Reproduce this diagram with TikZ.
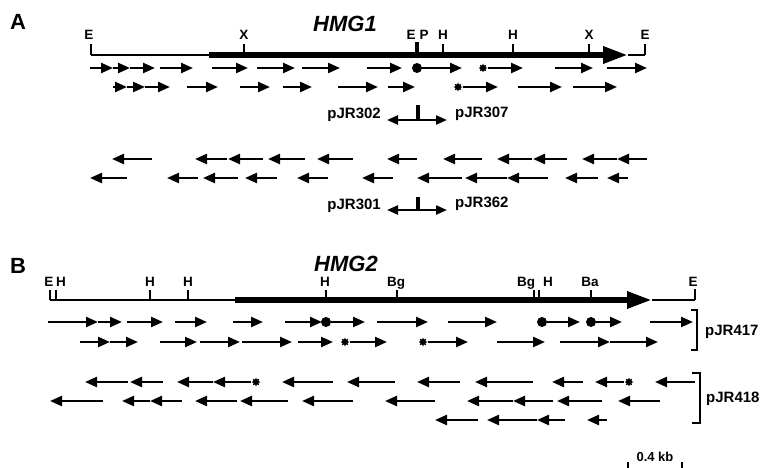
\documentclass[tikz,border=0pt]{standalone}
\usepackage{fontspec}
\setmainfont{Liberation Sans}
\usetikzlibrary{arrows.meta,shapes.geometric}

\tikzset{
 rd/.style={line width=2.3pt,-{Triangle[length=12pt,width=10pt]}},
 ld/.style={line width=2.3pt,{Triangle[length=12pt,width=10pt]}-},
 dotn/.style={circle,fill,inner sep=0pt,minimum size=10pt},
 starn/.style={star,star points=8,star point ratio=1.7,fill,inner sep=0pt,minimum size=9pt},
 site/.style={anchor=base,inner sep=0pt,font=\fontsize{13.5}{13.5}\selectfont\bfseries},
 plab/.style={anchor=base,inner sep=0pt,font=\fontsize{15}{15}\selectfont\bfseries},
 gene/.style={anchor=base,inner sep=0pt,font=\fontsize{22}{22}\selectfont\bfseries\itshape},
 panel/.style={anchor=base,inner sep=0pt,font=\fontsize{22}{22}\selectfont\bfseries},
 thinline/.style={line width=2.2pt},
 thickline/.style={line width=6pt,-{Triangle[length=25pt,width=16pt]}},
 tickline/.style={line width=2.2pt},
 pjr/.style={line width=2.3pt,{Triangle[length=11pt,width=9pt]}-{Triangle[length=11pt,width=9pt]}},
}

\newcommand\fwdrow[3]{\foreach \a/\b [count=\i] in {#3}{\coordinate (#1s\i) at (\a,#2); \coordinate (#1e\i) at (\b,#2); \draw[rd] (#1s\i) -- (#1e\i);}}
\newcommand\revrow[3]{\foreach \a/\b [count=\i] in {#3}{\coordinate (#1s\i) at (\a,#2); \coordinate (#1e\i) at (\b,#2); \draw[ld] (#1s\i) -- (#1e\i);}}

\begin{document}
\begin{tikzpicture}[x=1pt,y=-1pt]
\useasboundingbox (0,0) rectangle (764,468);

% ---------------- Panel A ----------------
\node[panel] (pA) at (18,30) {A};
\node[gene] (g1) at (345,32) {HMG1};

\coordinate (A0) at (91,55); \coordinate (A1) at (209,55);
\coordinate (A2) at (628,55); \coordinate (A3) at (645,55);
\draw[thinline] (A0) -- (A1);
\draw[thickline] (A1) -- (A2);
\draw[thinline] (A2) -- (A3);
\draw[tickline] (A0) -- ++(0,-11);
\draw[tickline] (A3) -- ++(0,-11);
\draw[tickline] (244,55) -- ++(0,-11);
\draw[line width=3.2pt] (417,55) -- ++(0,-13);
\draw[tickline] (443,55) -- ++(0,-11);
\draw[tickline] (513,55) -- ++(0,-11);
\draw[tickline] (589,55) -- ++(0,-11);

\node[site] (sa1) at (89,40) {E};
\node[site] (sa2) at (244,40) {X};
\node[site] (sa3) at (411,40) {E};
\node[site] (sa4) at (424,40) {P};
\node[site] (sa5) at (443,40) {H};
\node[site] (sa6) at (513,40) {H};
\node[site] (sa7) at (589,40) {X};
\node[site] (sa8) at (645,40) {E};

\fwdrow{ra}{68}{90/113,113/130,130/155,160/193,212/248,257/295,302/340,367/402,555/593,607/647}
\node[dotn] (da1) at (417,68) {}; \coordinate (da1e) at (462,68); \draw[rd] (da1) -- (da1e);
\node[starn] (sta1) at (483,68) {}; \coordinate (sta1e) at (523,68); \draw[rd] (sta1) -- (sta1e);

\fwdrow{rb}{87}{113/127,127/145,145/170,187/218,240/270,283/312,338/378,388/415,518/562,573/617}
\node[starn] (stb1) at (458,87) {}; \coordinate (stb1e) at (498,87); \draw[rd] (stb1) -- (stb1e);

% pJR302 / pJR307
\coordinate (p1l) at (387,120); \coordinate (p1r) at (447,120);
\coordinate (p1b) at (418,120); \coordinate (p1t) at (418,105);
\draw[pjr] (p1l) -- (p1r);
\draw[line width=3.2pt] (p1b) -- (p1t);
\node[plab,anchor=base east] (l302) at (381,119) {pJR302};
\node[plab,anchor=base west] (l307) at (455,118) {pJR307};

\revrow{rc}{159}{112/152,195/227,228/263,268/305,317/353,387/417,443/482,497/532,533/567,582/617,617/647}
\revrow{rd}{178}{90/127,167/198,203/238,245/277,297/328,362/393,417/462,465/507,507/548,565/598,607/628}

% pJR301 / pJR362
\coordinate (p2l) at (387,210); \coordinate (p2r) at (447,210);
\coordinate (p2b) at (418,210); \coordinate (p2t) at (418,197);
\draw[pjr] (p2l) -- (p2r);
\draw[line width=3.2pt] (p2b) -- (p2t);
\node[plab,anchor=base east] (l301) at (381,210) {pJR301};
\node[plab,anchor=base west] (l362) at (455,208) {pJR362};

% ---------------- Panel B ----------------
\node[panel] (pB) at (18,273) {B};
\node[gene] (g2) at (346,272) {HMG2};

\coordinate (B0) at (50,300); \coordinate (B1) at (235,300);
\coordinate (B2) at (652,300); \coordinate (B3) at (695,300);
\draw[thinline] (B0) -- (B1);
\draw[thickline] (B1) -- (B2);
\draw[thinline] (B2) -- (B3);
\draw[tickline] (B0) -- ++(0,-10);
\draw[tickline] (B3) -- ++(0,-11);
\draw[tickline] (56,300) -- ++(0,-10);
\draw[tickline] (150,300) -- ++(0,-10);
\draw[tickline] (188,300) -- ++(0,-10);
\draw[tickline] (326,300) -- ++(0,-10);
\draw[tickline] (397,300) -- ++(0,-10);
\draw[tickline] (534,300) -- ++(0,-10);
\draw[tickline] (539,300) -- ++(0,-10);
\draw[tickline] (591,300) -- ++(0,-10);

\node[site] (sb1) at (49,287) {E};
\node[site] (sb2) at (61,287) {H};
\node[site] (sb3) at (150,287) {H};
\node[site] (sb4) at (188,287) {H};
\node[site] (sb5) at (325,287) {H};
\node[site] (sb6) at (396,287) {Bg};
\node[site] (sb7) at (526,287) {Bg};
\node[site] (sb8) at (548,287) {H};
\node[site] (sb9) at (590,287) {Ba};
\node[site] (sb10) at (693,287) {E};

\fwdrow{re}{322}{48/98,98/122,127/163,175/207,233/263,285/322,377/428,448/497,650/693}
\node[dotn] (de1) at (326,322) {}; \coordinate (de1e) at (365,322); \draw[rd] (de1) -- (de1e);
\node[dotn] (de2) at (542,322) {}; \coordinate (de2e) at (580,322); \draw[rd] (de2) -- (de2e);
\node[dotn] (de3) at (591,322) {}; \coordinate (de3e) at (622,322); \draw[rd] (de3) -- (de3e);

\fwdrow{rf}{342}{80/110,110/138,160/197,200/240,242/292,298/333,497/545,560/610,610/658}
\node[starn] (stf1) at (345,342) {}; \coordinate (stf1e) at (387,342); \draw[rd] (stf1) -- (stf1e);
\node[starn] (stf2) at (423,342) {}; \coordinate (stf2e) at (468,342); \draw[rd] (stf2) -- (stf2e);

\coordinate (k1a) at (691,310); \coordinate (k1b) at (697,310);
\coordinate (k1c) at (697,350); \coordinate (k1d) at (691,350);
\draw[line width=2.2pt] (k1a) -- (k1b) -- (k1c) -- (k1d);
\node[plab,anchor=base west] (l417) at (705,335) {pJR417};

\revrow{rg}{382}{85/128,130/163,177/213,282/333,347/395,417/460,475/533,552/583,655/695}
\node[starn] (stg1) at (256,382) {}; \coordinate (stg1e) at (213,382); \draw[rd] (stg1) -- (stg1e);
\node[starn] (stg2) at (629,382) {}; \coordinate (stg2e) at (595,382); \draw[rd] (stg2) -- (stg2e);

\revrow{rh}{401}{50/103,122/150,150/182,195/237,240/288,302/353,385/435,467/513,513/553,557/602,618/660}
\revrow{ri}{420}{435/478,487/537,537/565,587/607}

\coordinate (k2a) at (692,373); \coordinate (k2b) at (700,373);
\coordinate (k2c) at (700,423); \coordinate (k2d) at (692,423);
\draw[line width=2.2pt] (k2a) -- (k2b) -- (k2c) -- (k2d);
\node[plab,anchor=base west] (l418) at (706,402) {pJR418};

% scale bar
\coordinate (sc1) at (628,468); \coordinate (sc2) at (682,468);
\draw[line width=1.5pt] (sc1) -- ++(0,-6);
\draw[line width=1.5pt] (sc2) -- ++(0,-6);
\node[site,font=\fontsize{13}{13}\selectfont\bfseries] (skb) at (655,461) {0.4 kb};
\end{tikzpicture}
\end{document}
